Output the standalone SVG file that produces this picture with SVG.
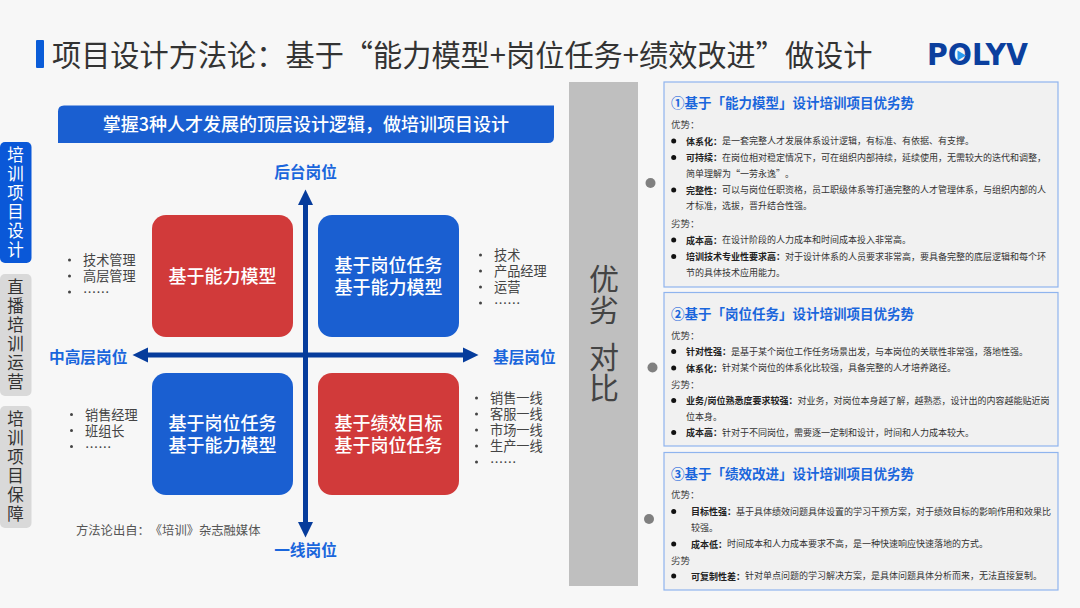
<svg xmlns="http://www.w3.org/2000/svg" width="1080" height="608" viewBox="0 0 1080 608">
<style>
text{font-family:"Noto Sans CJK SC","Noto Sans",sans-serif;dominant-baseline:central;transform:translateY(-1px);text-spacing-trim:space-all}
.c{text-anchor:middle}
.title{font-size:29.2px;fill:#333}
.tab{font-size:16.5px;writing-mode:vertical-rl;letter-spacing:2.5px}
.cmp{font-size:30px;fill:#444;writing-mode:vertical-rl;letter-spacing:1px}
.q{fill:#fff;font-size:18px;font-weight:500;text-anchor:middle}
.ax{fill:#1a66dc;font-size:15.7px;font-weight:700}
.li{fill:#444;font-size:13.2px}
.dot{fill:#444}
.panel{fill:#f1f1f1;stroke:#8fb4ee;stroke-width:1.2}
.h{fill:#1a66dc;font-size:13.5px;font-weight:700}
.b{fill:#333;font-size:9px}
.b tspan{font-weight:700;fill:#222}
.s{fill:#444;font-size:9.5px}
.bu{fill:#111}
.side{fill:#808080}
.ar{stroke:#063c9c;stroke-width:5;fill:none}
</style>
<defs>
<marker id="head" markerUnits="userSpaceOnUse" markerWidth="16" markerHeight="16" refX="1" refY="8" orient="auto-start-reverse"><path d="M0 0.5L15.5 8L0 15.5Z" fill="#063c9c"/></marker>
</defs>
<rect width="1080" height="608" fill="#f7f7f7"/>
<g id="header">
<rect x="36" y="40" width="8" height="28" rx="1" fill="#0a5cd8"/>
<text class="title" x="52" y="54">项目设计方法论&#xFF1A;基于“能力模型+岗位任务+绩效改进”做设计</text>
<text x="927" y="55" font-size="30" font-weight="700" fill="#0b3f9e" textLength="101" lengthAdjust="spacingAndGlyphs" style="font-family:'DejaVu Sans',sans-serif">POLYV</text>
<path d="M957.500 50.500L966 55.500L957.500 60.500Z" fill="#2a9bf0"/>
</g>
<g id="tab-design">
<rect x="0" y="142" width="31.500" height="121" rx="5" fill="#0a58d8"/>
<text class="tab" x="15.500" y="147.750" fill="#fff">培训项目设计</text>
</g>
<g id="tab-live">
<rect x="0" y="274" width="31.500" height="122" rx="5" fill="#d9d9d9"/>
<text class="tab" x="15.500" y="279.750" fill="#333">直播培训运营</text>
</g>
<g id="tab-support">
<rect x="0" y="406" width="31.500" height="122" rx="5" fill="#d9d9d9"/>
<text class="tab" x="15.500" y="411.750" fill="#333">培训项目保障</text>
</g>
<g id="banner">
<path d="M64 105.500H554V137Q554 143 548 143H58V111.500Q58 105.500 64 105.500Z" fill="#1a5fd1"/>
<text class="c" x="306" y="124" font-size="18" font-weight="500" fill="#fff">掌握3种人才发展的顶层设计逻辑&#xFF0C;做培训项目设计</text>
</g>
<g id="connectors">
<line class="ar" x1="305.500" y1="523" x2="305.500" y2="204" marker-start="url(#head)" marker-end="url(#head)"/>
<line class="ar" x1="147" y1="355" x2="464" y2="355" marker-start="url(#head)" marker-end="url(#head)"/>
</g>
<g id="axis-labels">
<text class="ax c" x="305.500" y="172.500">后台岗位</text>
<text class="ax c" x="305.500" y="550.500">一线岗位</text>
<text class="ax" x="49" y="357">中高层岗位</text>
<text class="ax" x="493" y="357">基层岗位</text>
</g>
<g id="q-top-left">
<rect x="152" y="215" width="141" height="122" rx="14" fill="#d13a3a"/>
<text class="q" x="222.500" y="275.500">基于能力模型</text>
</g>
<g id="q-top-right">
<rect x="318" y="215" width="141" height="122" rx="14" fill="#1a5fd1"/>
<text class="q"><tspan x="388.500" y="265">基于岗位任务</tspan><tspan x="388.500" y="287">基于能力模型</tspan></text>
</g>
<g id="q-bottom-left">
<rect x="152" y="373" width="141" height="122" rx="14" fill="#1a5fd1"/>
<text class="q"><tspan x="222.500" y="423">基于岗位任务</tspan><tspan x="222.500" y="445">基于能力模型</tspan></text>
</g>
<g id="q-bottom-right">
<rect x="318" y="373" width="141" height="122" rx="14" fill="#d13a3a"/>
<text class="q"><tspan x="388.500" y="423">基于绩效目标</tspan><tspan x="388.500" y="445">基于岗位任务</tspan></text>
</g>
<g id="list-top-left">
<circle class="dot" cx="69.500" cy="260" r="1.500"/><circle class="dot" cx="69.500" cy="276" r="1.500"/><circle class="dot" cx="69.500" cy="292" r="1.500"/>
<text class="li"><tspan x="83" y="260">技术管理</tspan><tspan x="83" y="276">高层管理</tspan><tspan x="83" y="292">……</tspan></text>
</g>
<g id="list-top-right">
<circle class="dot" cx="480.500" cy="255" r="1.500"/><circle class="dot" cx="480.500" cy="271" r="1.500"/><circle class="dot" cx="480.500" cy="287" r="1.500"/><circle class="dot" cx="480.500" cy="303" r="1.500"/>
<text class="li"><tspan x="494" y="255">技术</tspan><tspan x="494" y="271">产品经理</tspan><tspan x="494" y="287">运营</tspan><tspan x="494" y="303">……</tspan></text>
</g>
<g id="list-bottom-left">
<circle class="dot" cx="71.500" cy="414.500" r="1.500"/><circle class="dot" cx="71.500" cy="430.500" r="1.500"/><circle class="dot" cx="71.500" cy="446.500" r="1.500"/>
<text class="li"><tspan x="85" y="414.500">销售经理</tspan><tspan x="85" y="430.500">班组长</tspan><tspan x="85" y="446.500">……</tspan></text>
</g>
<g id="list-bottom-right">
<circle class="dot" cx="476.500" cy="398" r="1.500"/><circle class="dot" cx="476.500" cy="414" r="1.500"/><circle class="dot" cx="476.500" cy="430" r="1.500"/><circle class="dot" cx="476.500" cy="446" r="1.500"/><circle class="dot" cx="476.500" cy="462" r="1.500"/>
<text class="li"><tspan x="490" y="398">销售一线</tspan><tspan x="490" y="414">客服一线</tspan><tspan x="490" y="430">市场一线</tspan><tspan x="490" y="446">生产一线</tspan><tspan x="490" y="462">……</tspan></text>
</g>
<text x="76" y="530.500" font-size="12.300" fill="#555">方法论出自&#xFF1A;《培训》杂志融媒体</text>
<g id="compare">
<rect x="569" y="82" width="69" height="504" fill="#bfbfbf"/>
<text class="cmp" x="604" y="265">优劣</text>
<text class="cmp" x="604" y="343">对比</text>
</g>
<g id="panel-1">
<circle class="side" cx="650.500" cy="183" r="5"/>
<rect class="panel" x="664" y="82" width="394" height="205"/>
<text class="h" x="671" y="103">①基于「能力模型」设计培训项目优劣势</text>
<text class="s" x="671" y="124.500">优势&#xFF1A;</text>
<circle class="bu" cx="673.700" cy="141" r="2.500"/>
<text class="b" x="686" y="141.500"><tspan>体系化&#xFF1A;</tspan>是一套完整人才发展体系设计逻辑&#xFF0C;有标准、有依据、有支撑。</text>
<circle class="bu" cx="673.700" cy="157.500" r="2.500"/>
<text class="b" x="686" y="158"><tspan>可持续&#xFF1A;</tspan>在岗位相对稳定情况下&#xFF0C;可在组织内部持续&#xFF0C;延续使用&#xFF0C;无需较大的迭代和调整&#xFF0C;</text>
<text class="b" x="686" y="174.500">简单理解为“一劳永逸”。</text>
<circle class="bu" cx="673.700" cy="190" r="2.500"/>
<text class="b" x="686" y="190.500"><tspan>完整性&#xFF1A;</tspan>可以与岗位任职资格&#xFF0C;员工职级体系等打通完整的人才管理体系&#xFF0C;与组织内部的人</text>
<text class="b" x="686" y="206.500">才标准&#xFF0C;选拔&#xFF0C;晋升结合性强。</text>
<text class="s" x="671" y="224">劣势&#xFF1A;</text>
<circle class="bu" cx="673.700" cy="240" r="2.500"/>
<text class="b" x="686" y="240.500"><tspan>成本高&#xFF1A;</tspan>在设计阶段的人力成本和时间成本投入非常高。</text>
<circle class="bu" cx="673.700" cy="256.500" r="2.500"/>
<text class="b" x="686" y="257"><tspan>培训技术专业性要求高&#xFF1A;</tspan>对于设计体系的人员要求非常高&#xFF0C;要具备完整的底层逻辑和每个环</text>
<text class="b" x="686" y="273.500">节的具体技术应用能力。</text>
</g>
<g id="panel-2">
<circle class="side" cx="652.500" cy="367.500" r="5"/>
<rect class="panel" x="664" y="292.500" width="394" height="153.500"/>
<text class="h" x="671" y="314">②基于「岗位任务」设计培训项目优劣势</text>
<text class="s" x="671" y="335.500">优势&#xFF1A;</text>
<circle class="bu" cx="673.700" cy="351.500" r="2.500"/>
<text class="b" x="686" y="352"><tspan>针对性强&#xFF1A;</tspan>是基于某个岗位工作任务场景出发&#xFF0C;与本岗位的关联性非常强&#xFF0C;落地性强。</text>
<circle class="bu" cx="673.700" cy="368" r="2.500"/>
<text class="b" x="686" y="368.500"><tspan>体系化&#xFF1A;</tspan>针对某个岗位的体系化比较强&#xFF0C;具备完整的人才培养路径。</text>
<text class="s" x="671" y="385">劣势&#xFF1A;</text>
<circle class="bu" cx="673.700" cy="400.500" r="2.500"/>
<text class="b" x="686" y="401"><tspan>业务/岗位熟悉度要求较强&#xFF1A;</tspan>对业务&#xFF0C;对岗位本身越了解&#xFF0C;越熟悉&#xFF0C;设计出的内容越能贴近岗</text>
<text class="b" x="686" y="417">位本身。</text>
<circle class="bu" cx="673.700" cy="432.500" r="2.500"/>
<text class="b" x="686" y="433"><tspan>成本高&#xFF1A;</tspan>针对于不同岗位&#xFF0C;需要逐一定制和设计&#xFF0C;时间和人力成本较大。</text>
</g>
<g id="panel-3">
<circle class="side" cx="649" cy="519" r="5"/>
<rect class="panel" x="664" y="452.500" width="394" height="137.500"/>
<text class="h" x="671" y="473.500">③基于「绩效改进」设计培训项目优劣势</text>
<text class="s" x="671" y="495">优势&#xFF1A;</text>
<circle class="bu" cx="673.700" cy="511.500" r="2.500"/>
<text class="b" x="691" y="512"><tspan>目标性强&#xFF1A;</tspan>基于具体绩效问题具体设置的学习干预方案&#xFF0C;对于绩效目标的影响作用和效果比</text>
<text class="b" x="691" y="528">较强。</text>
<circle class="bu" cx="673.700" cy="544" r="2.500"/>
<text class="b" x="691" y="544.500"><tspan>成本低&#xFF1A;</tspan>时间成本和人力成本要求不高&#xFF0C;是一种快速响应快速落地的方式。</text>
<text class="s" x="671" y="560.500">劣势</text>
<circle class="bu" cx="673.700" cy="576" r="2.500"/>
<text class="b" x="691" y="576.500"><tspan>可复制性差&#xFF1A;</tspan>针对单点问题的学习解决方案&#xFF0C;是具体问题具体分析而来&#xFF0C;无法直接复制。</text>
</g>
</svg>
